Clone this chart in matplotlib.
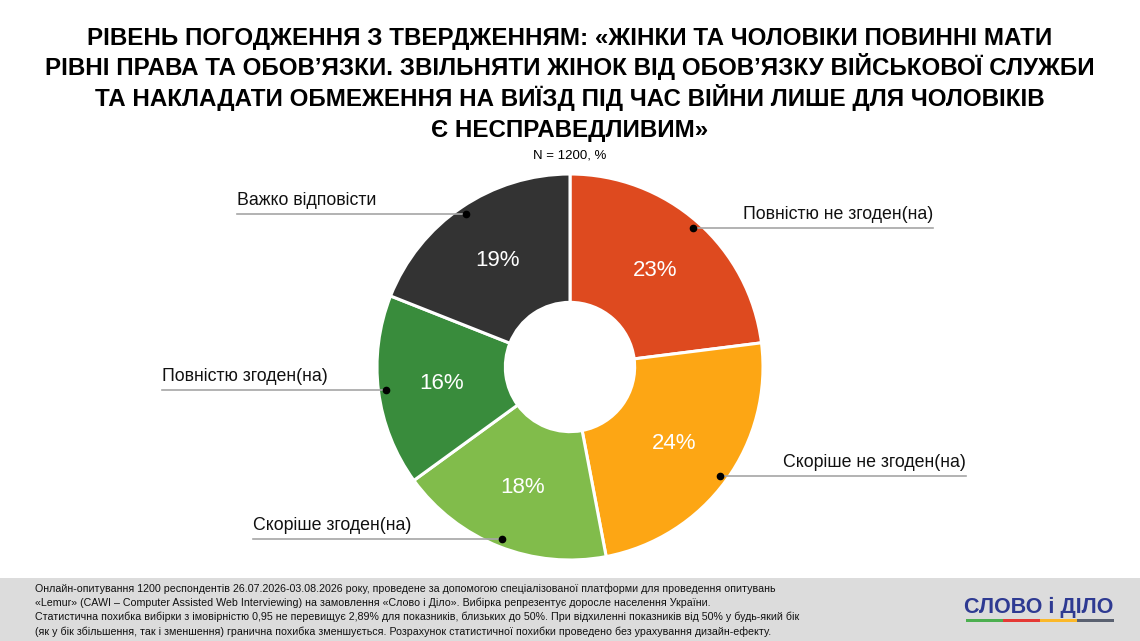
import numpy as np
import matplotlib
matplotlib.use("Agg")
import matplotlib.pyplot as plt
from matplotlib.patches import Rectangle

plt.rcParams['font.family'] = ['Liberation Sans', 'DejaVu Sans']

# дані
categories = ["Повністю не згоден(на)", "Скоріше не згоден(на)", "Скоріше згоден(на)",
              "Повністю згоден(на)", "Важко відповісти"]
values = [23, 24, 18, 16, 19]
colors = ["#DE4A1F", "#FDA614", "#81BC4B", "#398C3C", "#333333"]

title_lines = ["РІВЕНЬ ПОГОДЖЕННЯ З ТВЕРДЖЕННЯМ: «ЖІНКИ ТА ЧОЛОВІКИ ПОВИННІ МАТИ",
               "РІВНІ ПРАВА ТА ОБОВ’ЯЗКИ. ЗВІЛЬНЯТИ ЖІНОК ВІД ОБОВ’ЯЗКУ ВІЙСЬКОВОЇ СЛУЖБИ",
               "ТА НАКЛАДАТИ ОБМЕЖЕННЯ НА ВИЇЗД ПІД ЧАС ВІЙНИ ЛИШЕ ДЛЯ ЧОЛОВІКІВ",
               "Є НЕСПРАВЕДЛИВИМ»"]
subtitle = "N = 1200, %"
footer_lines = [
    "Онлайн-опитування 1200 респондентів 26.07.2026-03.08.2026 року, проведене за допомогою спеціалізованої платформи для проведення опитувань",
    "«Lemur» (CAWI – Computer Assisted Web Interviewing) на замовлення «Слово і Діло». Вибірка репрезентує доросле населення України.",
    "Статистична похибка вибірки з імовірністю 0,95 не перевищує 2,89% для показників, близьких до 50%. При відхиленні показників від 50% у будь-який бік",
    "(як у бік збільшення, так і зменшення) гранична похибка зменшується. Розрахунок статистичної похибки проведено без урахування дизайн-ефекту.",
]

W, H = 1140, 641
fig = plt.figure(figsize=(W / 100, H / 100), dpi=100)
ax = fig.add_axes([0, 0, 1, 1])

# центр і радіус кільця в пікселях (y знизу)
cx, cy, R = 570, H - 367, 193

wedges, _ = ax.pie(values, colors=colors, startangle=90, counterclock=False,
                   center=(cx, cy), radius=R,
                   wedgeprops=dict(width=R * 0.665, edgecolor="white", linewidth=2.2,
                                   joinstyle="round"))
ax.set_xlim(0, W)
ax.set_ylim(0, H)
ax.set_aspect("equal")
ax.axis("off")

# підписи (позиції тексту в пікселях)
label_pos = {
    "Повністю не згоден(на)": ("right", 933),
    "Скоріше не згоден(на)": ("right", 966),
    "Скоріше згоден(на)": ("left", 253),
    "Повністю згоден(на)": ("left", 162),
    "Важко відповісти": ("left", 237),
}

for w, cat, v in zip(wedges, categories, values):
    mid = np.deg2rad((w.theta1 + w.theta2) / 2)
    # відсоток
    rm = R * 0.67
    ax.text(cx + rm * np.cos(mid), cy + rm * np.sin(mid), f"{v}%", color="white",
            fontsize=16, ha="center", va="center")
    # точка та лінія
    rd = R * 0.96
    dx, dy = cx + rd * np.cos(mid), cy + rd * np.sin(mid)
    side, tx = label_pos[cat]
    ax.plot([dx, tx], [dy, dy], color="#A6A6A6", lw=1.2, zorder=3)
    ax.plot(dx, dy, "o", color="black", ms=4.5, zorder=4)
    ax.text(tx, dy + 5, cat, fontsize=12.8, color="#111111", ha=side, va="bottom")

for i, line in enumerate(title_lines):
    ax.text(W / 2, H - (44.5 + i * 30.8), line, ha="center", va="baseline", fontsize=17.4,
            fontweight="bold", color="black")
ax.text(W / 2, H - 155, subtitle, ha="center", va="center", fontsize=9.5)

# нижня панель
ax.add_patch(Rectangle((0, 0), W, H - 578, facecolor="#DCDCDC", edgecolor="none", zorder=0))
for i, line in enumerate(footer_lines):
    ax.text(35, H - (591.5 + i * 14.4), line, ha="left", va="baseline", fontsize=7.7,
            color="#111111")

# логотип
ax.text(1039, H - 607, "СЛОВО і ДІЛО", ha="center", va="center", fontsize=15.5,
        fontweight="bold", color="#2E3A92")
strip = ["#4CAF50", "#E53935", "#FBB829", "#5A6170"]
for i, c in enumerate(strip):
    ax.add_patch(Rectangle((966 + i * 37, H - 622), 37, 3, facecolor=c, edgecolor="none"))

fig.savefig("out.png", dpi=100)
